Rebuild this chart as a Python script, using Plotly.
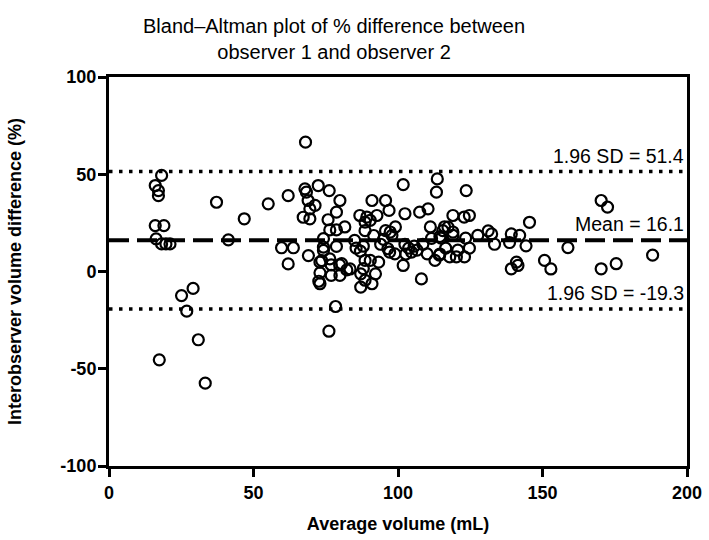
import plotly.graph_objects as go

# Average volume (mL)
x_avg = [
    18.2, 16.0, 17.1, 17.1, 16.0, 19.0, 16.3, 18.2, 19.7, 21.1, 17.4, 25.1, 26.9, 29.1, 30.9, 33.3, 37.2, 41.3, 46.8, 55.1,
    59.7, 62.0, 63.8, 62.0, 68.0, 67.8, 68.3, 68.9, 71.3, 69.5, 67.2, 69.5, 72.4, 76.2, 79.9, 78.7, 75.8, 81.6, 76.4, 78.7,
    74.2, 69.0, 73.0, 73.0, 76.9, 79.8, 74.2, 76.4, 73.6, 80.5, 82.3, 83.4, 73.0, 72.6, 76.9, 79.9, 78.4, 76.1, 78.7, 74.2,
    86.8, 89.2, 88.6, 88.6, 91.0, 95.7, 96.9, 90.4, 92.7, 91.6, 95.7, 97.3, 99.1, 97.9, 85.5, 87.0, 88.0, 88.6, 90.4, 93.3,
    88.0, 87.1, 88.6, 91.0, 92.2, 87.1, 96.5, 97.1, 98.9, 94.0, 95.0, 85.0, 101.8,
    101.8, 102.4, 107.5, 110.4, 113.6, 113.3, 123.6, 102.4, 103.7, 104.7, 102.7, 105.6, 108.1, 111.2, 110.1, 112.8, 114.3,
    111.6, 114.5, 115.5, 117.3, 119.0, 116.1, 119.0, 122.9, 124.7, 114.9, 119.0, 123.4, 127.6, 114.5, 117.9, 120.2, 123.0,
    120.7, 124.7, 116.5, 108.6, 106.6,
    131.2, 132.4, 133.4, 139.2, 142.1, 138.6, 144.3, 145.5, 139.2, 141.0, 141.5, 150.7, 152.9, 158.8, 170.3, 172.5, 170.3,
    175.5, 188.1,
]
# Interobserver volume difference (%)
y_diff = [
    49.4, 44.2, 41.6, 39.0, 23.6, 23.6, 16.8, 14.2, 14.2, 14.2, -45.4, -12.4, -20.4, -8.7, -35.1, -57.4, 35.6, 16.3, 27.1, 34.8,
    12.2, 3.9, 12.2, 39.0, 66.5, 42.5, 40.8, 36.5, 34.0, 32.2, 27.9, 27.1, 44.2, 41.6, 36.5, 30.5, 26.6, 22.9, 21.4, 21.4,
    16.9, 8.2, 4.8, -0.7, 3.4, 3.4, 10.8, 6.5, 5.6, 4.0, 0.8, 1.3, -6.3, -5.0, -2.0, -2.0, -18.0, -30.7, 12.9, 12.5,
    28.8, 28.0, 25.4, 21.0, 36.5, 36.5, 31.4, 26.3, 28.8, 18.5, 21.0, 20.3, 22.9, 18.6, 12.0, 10.5, 13.0, 5.7, 5.7, 4.8,
    1.5, -1.2, -4.5, -6.3, -1.2, -8.0, 11.7, 10.0, 9.1, 14.0, 16.5, 16.0, 3.1,
    44.7, 29.7, 30.5, 32.2, 47.6, 40.8, 41.6, 14.0, 12.0, 10.0, 9.0, 13.0, -3.8, 22.9, 9.1, 5.7, 8.4,
    17.0, 18.0, 21.0, 22.8, 20.3, 23.0, 28.8, 28.0, 28.8, 17.2, 18.6, 17.2, 18.6, 9.0, 7.5, 7.5, 7.5,
    11.0, 12.0, 12.0, 14.0, 11.0,
    20.9, 19.3, 14.0, 19.3, 18.6, 14.9, 13.2, 25.3, 1.4, 4.8, 3.1, 5.7, 1.3, 12.3, 36.5, 33.1, 1.4,
    4.0, 8.4,
]

mean_diff = 16.1
loa_upper = 51.4
loa_lower = -19.3

x_range = [0, 200]
y_range = [-100, 100]
x_ticks = [0, 50, 100, 150, 200]
y_ticks = [100, 50, 0, -50, -100]
y_ticklabels = ["100", "50", "0", "-50", "-100"]

FONT = "Liberation Sans, Arial, sans-serif"

fig = go.Figure()

fig.add_trace(go.Scatter(
    x=x_avg, y=y_diff, mode="markers",
    marker=dict(symbol="circle-open", size=11, color="black", line=dict(width=2.2, color="black")),
    showlegend=False, hoverinfo="x+y",
))

# reference lines
fig.add_trace(go.Scatter(x=x_range, y=[mean_diff, mean_diff], mode="lines",
                         line=dict(color="black", width=4, dash="20px,8px"), showlegend=False))
for v in (loa_upper, loa_lower):
    fig.add_trace(go.Scatter(x=x_range, y=[v, v], mode="lines",
                             line=dict(color="black", width=3.5, dash="3.5px,6.5px"), showlegend=False))

ann_font = dict(family=FONT, size=19.5, color="black")
labels = [
    (loa_upper, f"1.96 SD = {loa_upper}"),
    (mean_diff, f"Mean = {mean_diff}"),
    (loa_lower, f"1.96 SD = {loa_lower}"),
]
for v, t in labels:
    fig.add_annotation(x=x_range[1], y=v, text=t, showarrow=False, xanchor="right", yanchor="bottom",
                       xshift=-1, yshift=3, font=ann_font)

# title as a paper annotation above the plot
fig.add_annotation(xref="paper", yref="paper", x=0.39, y=1, xanchor="center", yanchor="bottom",
                   yshift=12, showarrow=False, align="center",
                   text="Bland\u2013Altman plot of % difference between<br>observer 1 and observer 2",
                   font=dict(family=FONT, size=20, color="black"))

fig.update_layout(
    width=709, height=540,
    margin=dict(l=109, r=22, t=77, b=74, autoexpand=False),
    paper_bgcolor="white", plot_bgcolor="white",
    xaxis=dict(range=x_range, tickvals=x_ticks, showgrid=False, zeroline=False, automargin=False,
               showline=True, linecolor="black", linewidth=3, mirror=True,
               ticks="outside", ticklen=8, tickwidth=3, tickcolor="black",
               tickfont=dict(family=FONT, size=18, color="black", weight="bold"),
               title=dict(text="<b>Average volume (mL)</b>", standoff=16,
                          font=dict(family=FONT, size=18, color="black"))),
    yaxis=dict(range=y_range, tickvals=y_ticks, ticktext=y_ticklabels, showgrid=False, zeroline=False,
               automargin=False, ticklabelstandoff=-2,
               showline=True, linecolor="black", linewidth=3, mirror=True,
               ticks="outside", ticklen=8, tickwidth=3, tickcolor="black",
               tickfont=dict(family=FONT, size=18, color="black", weight="bold"),
               title=dict(text="<b>Interobserver volume difference (%)</b>", standoff=35,
                          font=dict(family=FONT, size=18, color="black"))),
)

fig.write_html("out.html", config={"displayModeBar": False},
               post_script="document.body.style.margin='0';")
